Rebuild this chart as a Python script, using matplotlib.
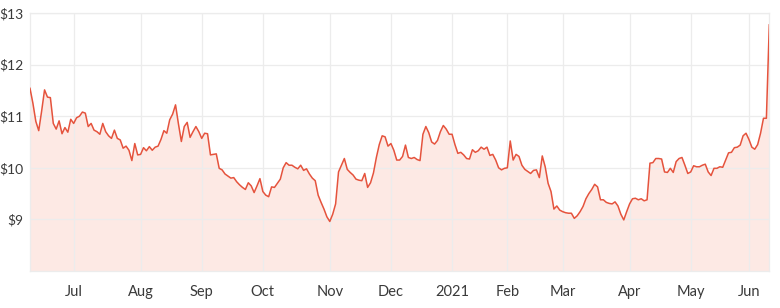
import matplotlib.pyplot as plt

# closing price, one value per trading day (Jun 2020 - Jun 2021)
prices = [
    11.54, 11.25, 10.90, 10.72, 11.10, 11.51, 11.37, 11.36, 10.86, 10.75,
    10.91, 10.66, 10.78, 10.69, 10.94, 10.86, 10.97, 11.00, 11.08, 11.06,
    10.80, 10.86, 10.73, 10.70, 10.65, 10.86, 10.70, 10.62, 10.57, 10.73,
    10.57, 10.54, 10.38, 10.42, 10.34, 10.14, 10.47, 10.25, 10.26, 10.39,
    10.33, 10.41, 10.34, 10.40, 10.42, 10.55, 10.72, 10.67, 10.93, 11.04,
    11.22, 10.85, 10.51, 10.80, 10.88, 10.59, 10.70, 10.80, 10.70, 10.57,
    10.67, 10.66, 10.25, 10.26, 10.27, 9.99, 9.96, 9.88, 9.84, 9.80,
    9.81, 9.73, 9.67, 9.62, 9.58, 9.71, 9.65, 9.52, 9.65, 9.79,
    9.54, 9.47, 9.44, 9.63, 9.62, 9.70, 9.78, 10.00, 10.10, 10.05,
    10.05, 10.01, 9.98, 10.05, 9.95, 9.98, 9.88, 9.80, 9.75, 9.47,
    9.33, 9.20, 9.05, 8.96, 9.10, 9.30, 9.92, 10.05, 10.18, 9.97,
    9.91, 9.86, 9.78, 9.76, 9.75, 9.89, 9.62, 9.71, 9.90, 10.20,
    10.45, 10.62, 10.60, 10.42, 10.47, 10.34, 10.15, 10.15, 10.22, 10.44,
    10.20, 10.18, 10.20, 10.16, 10.14, 10.65, 10.80, 10.68, 10.50, 10.46,
    10.53, 10.70, 10.82, 10.75, 10.65, 10.65, 10.45, 10.28, 10.30, 10.25,
    10.18, 10.17, 10.35, 10.30, 10.33, 10.40, 10.36, 10.40, 10.24, 10.26,
    10.15, 10.00, 9.96, 9.99, 10.00, 10.52, 10.15, 10.26, 10.22, 10.05,
    9.97, 9.93, 9.89, 9.95, 9.96, 9.81, 10.23, 10.02, 9.70, 9.54,
    9.20, 9.26, 9.18, 9.15, 9.13, 9.12, 9.12, 9.02, 9.07, 9.15,
    9.25, 9.40, 9.50, 9.58, 9.68, 9.63, 9.38, 9.38, 9.33, 9.31,
    9.30, 9.34, 9.26, 9.10, 8.99, 9.15, 9.30, 9.40, 9.41, 9.38,
    9.40, 9.36, 9.38, 10.09, 10.10, 10.18, 10.18, 10.17, 9.92, 9.91,
    9.99, 9.91, 10.12, 10.18, 10.20, 10.05, 9.89, 9.92, 10.04, 10.02,
    10.02, 10.05, 10.07, 9.92, 9.85, 9.99, 9.99, 10.02, 10.01, 10.15,
    10.29, 10.30, 10.39, 10.40, 10.44, 10.62, 10.67, 10.55, 10.40, 10.36,
    10.45, 10.67, 10.96, 10.96, 12.77,
]

# first trading day of each month (index into prices)
month_pos = [15, 38, 59, 80, 103, 124, 145, 164, 183, 206, 227, 247]
month_labels = ['Jul', 'Aug', 'Sep', 'Oct', 'Nov', 'Dec', '2021',
                'Feb', 'Mar', 'Apr', 'May', 'Jun']
y_ticks = [9, 10, 11, 12, 13]

LINE = '#e5533d'
FILL = '#fde9e4'
GRID = '#ececec'
TEXT = '#3a3a3a'

plt.rcParams['font.family'] = ['Lato', 'DejaVu Sans']

fig = plt.figure(figsize=(7.8, 3.08), dpi=100)
ax = fig.add_axes([30 / 780, 37 / 308, 739.3 / 780, 258 / 308])

x = list(range(len(prices)))
ax.fill_between(x, prices, 8, color=FILL, linewidth=0, zorder=1)
ax.plot(x, prices, color=LINE, linewidth=1.1, zorder=3)

ax.set_xlim(0, len(prices) - 1)
ax.set_ylim(8, 13)
ax.set_xticks(month_pos)
ax.set_xticklabels(month_labels)
ax.set_yticks(y_ticks)
ax.set_yticklabels([f'${v}' for v in y_ticks])

ax.grid(True, color=GRID, linewidth=0.9, zorder=2)
ax.set_axisbelow(False)
for s in ax.spines.values():
    s.set_color(GRID)
    s.set_linewidth(0.9)
ax.tick_params(length=0, colors=TEXT)
ax.tick_params(axis='x', pad=10, labelsize=10.5)
ax.tick_params(axis='y', pad=5, labelsize=10)

fig.savefig('out.png', dpi=100)
